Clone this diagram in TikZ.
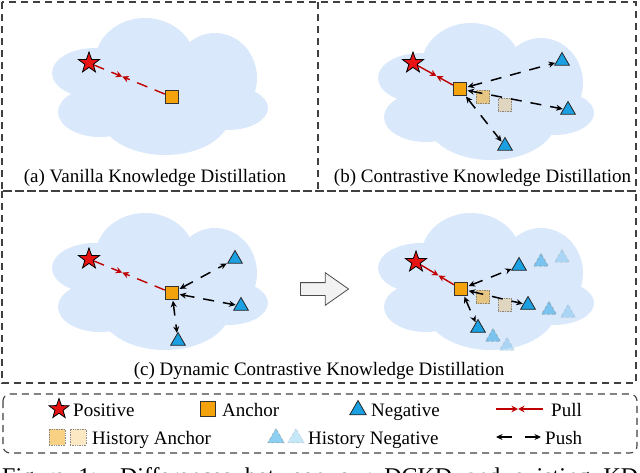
\documentclass[tikz,border=0pt]{standalone}
\usepackage{fontspec}
\setmainfont{Liberation Serif}
\usetikzlibrary{shapes.geometric,shapes.arrows,arrows.meta,calc}
\definecolor{cloudblue}{HTML}{DAE8FC}
\definecolor{starred}{HTML}{E81414}
\definecolor{pullred}{HTML}{C00000}
\definecolor{ancorange}{HTML}{F4A30C}
\definecolor{negblue}{HTML}{1BA0E1}
\definecolor{boxgray}{HTML}{404040}
\tikzset{
  cloudpic/.pic={
    \fill[cloudblue]
      (93,44) ellipse [x radius=50pt, y radius=44pt]
      (163,60) ellipse [x radius=42pt, y radius=45pt]
      (176,90) ellipse [x radius=40pt, y radius=22pt]
      (113,97) ellipse [x radius=65pt, y radius=40pt]
      (48,94) ellipse [x radius=42pt, y radius=25pt]
      (43,55) ellipse [x radius=43pt, y radius=25pt]
      (108,72) ellipse [x radius=80pt, y radius=45pt];
  },
  boxline/.style={draw=boxgray, line width=1.1pt, dash pattern=on 7pt off 5pt},
  posnode/.style={star, star points=5, star point ratio=2.5, minimum size=22pt, inner sep=0pt, fill=starred, draw=black, line width=0.8pt},
  ancnode/.style={rectangle, minimum size=13.5pt, inner sep=0pt, fill=ancorange, draw=black!80, line width=0.8pt},
  hanc/.style={rectangle, minimum size=13.5pt, inner sep=0pt, fill=ancorange, fill opacity=#1, draw=gray, draw opacity=0.9, densely dotted, line width=0.7pt},
  negnode/.style={regular polygon, regular polygon sides=3, minimum size=17pt, inner sep=0pt, fill=negblue, draw=black!85, line width=0.8pt},
  hneg/.style={regular polygon, regular polygon sides=3, minimum size=17pt, inner sep=0pt, fill=negblue, fill opacity=#1, draw=gray, draw opacity=#1, densely dashed, line width=0.7pt},
  pulld/.style={draw=pullred, line width=1.4pt, dash pattern=on 11pt off 8pt, -{Stealth[length=6.5pt,width=6.5pt]}},
  pulls/.style={draw=pullred, line width=1.4pt, -{Stealth[length=6.5pt,width=6.5pt]}},
  push/.style={draw=black, line width=1.5pt, dash pattern=on 11pt off 9pt, {Stealth[length=6.5pt,width=6pt]}-{Stealth[length=6.5pt,width=6pt]}, shorten <=0.5pt, shorten >=0.5pt},
  pushs/.style={draw=black, line width=1.5pt, -{Stealth[length=6.5pt,width=6pt]}},
  txt/.style={inner sep=0pt, anchor=base west},
  captext/.style={inner sep=0pt, anchor=base},
}
\begin{document}
\begin{tikzpicture}[x=1pt,y=-1pt,font=\fontsize{19}{22}\selectfont]
\useasboundingbox (0,0) rectangle (640,473);

% frames
\draw[boxline] (2,2) rectangle (636,191);
\draw[boxline] (318,2) -- (318,191);
\draw[boxline] (2,191) rectangle (636,383);
\draw[boxline, rounded corners=7pt] (3,394) rectangle (637,453);

% clouds
\pic at (52,18) {cloudpic};
\pic at (378,23) {cloudpic};
\pic at (52,213) {cloudpic};
\pic at (378,213) {cloudpic};

% (a)
\node[posnode] (sa) at (89,63) {};
\node[ancnode] (qa) at (172,97) {};
\coordinate (ma) at ($(sa)!0.4!(qa)$);
\draw[pulld] (sa) -- (ma);
\draw[pulld] (qa) -- (ma);
\node[captext] (capa) at (155,183) {(a) Vanilla Knowledge Distillation};

% (b)
\node[hanc=0.5] (hb1) at (483,97) {};
\node[hanc=0.25] (hb2) at (505,105) {};
\node[posnode] (sb) at (413,63) {};
\node[ancnode] (qb) at (460,89) {};
\node[negnode] (nb1) at (562,61) {};
\node[negnode] (nb2) at (568,110) {};
\node[negnode] (nb3) at (505,146) {};
\coordinate (mb) at ($(sb)!0.5!(qb)$);
\draw[pulls] (sb) -- (mb);
\draw[pulls] (qb) -- (mb);
\draw[push] (qb) -- (nb1);
\draw[push] (qb) -- (nb2);
\draw[push] (qb) -- (nb3);
\node[captext] (capb) at (482.5,183) {(b) Contrastive Knowledge Distillation};

% (c) left
\node[posnode] (sc) at (89,259) {};
\node[ancnode] (qc) at (172,293) {};
\node[negnode] (nc1) at (235,259) {};
\node[negnode] (nc2) at (241,306) {};
\node[negnode] (nc3) at (178,341) {};
\coordinate (mc) at ($(sc)!0.4!(qc)$);
\draw[pulld] (sc) -- (mc);
\draw[pulld] (qc) -- (mc);
\draw[push] (qc) -- (nc1);
\draw[push] (qc) -- (nc2);
\draw[push] (qc) -- (nc3);

% big arrow
\node[single arrow, minimum height=48pt, inner xsep=0pt, inner ysep=6pt, single arrow head extend=10pt, single arrow tip angle=70, fill=black!5, draw=black!70, line width=0.8pt] (bigarrow) at (320,289) {};

% (c) right
\node[hanc=0.5] (hd1) at (483,297) {};
\node[hanc=0.25] (hd2) at (505,305) {};
\node[hneg=0.5] (hn1a) at (541,262) {};
\node[hneg=0.25] (hn1b) at (562,258) {};
\node[hneg=0.5] (hn2a) at (549,310) {};
\node[hneg=0.25] (hn2b) at (568,313) {};
\node[hneg=0.5] (hn3a) at (493,337) {};
\node[hneg=0.25] (hn3b) at (507,346) {};
\node[posnode] (sd) at (416,262) {};
\node[ancnode] (qd) at (461,289) {};
\node[negnode] (nd1) at (519,266) {};
\node[negnode] (nd2) at (528,305) {};
\node[negnode] (nd3) at (478,328) {};
\coordinate (md) at ($(sd)!0.5!(qd)$);
\draw[pulls] (sd) -- (md);
\draw[pulls] (qd) -- (md);
\draw[push] (qd) -- (nd1);
\draw[push] (qd) -- (nd2);
\draw[push] (qd) -- (nd3);
\node[captext] (capc) at (319,375) {(c) Dynamic Contrastive Knowledge Distillation};

% legend
\node[posnode, minimum size=21pt] (lpos) at (59,409) {};
\node[txt] (tpos) at (73,416) {Positive};
\node[ancnode, minimum size=15pt] (lanc) at (208,409) {};
\node[txt] (tanc) at (222,416) {Anchor};
\node[negnode, minimum size=19pt] (lneg) at (358,410) {};
\node[txt] (tneg) at (371,416) {Negative};
\coordinate (pl1) at (496,409);
\coordinate (pl2) at (518,409);
\coordinate (pl3) at (543,409);
\draw[pulls] (pl1) -- (pl2);
\draw[pulls] (pl3) -- (pl2);
\node[txt] (tpull) at (551,416) {Pull};
\node[hanc=0.5, minimum size=16pt] (lha1) at (57,437) {};
\node[hanc=0.25, minimum size=16pt] (lha2) at (78,437) {};
\node[txt] (tha) at (92,444.5) {History Anchor};
\node[hneg=0.5, minimum size=19pt] (lhn1) at (276,438) {};
\node[hneg=0.25, minimum size=19pt] (lhn2) at (296,438) {};
\node[txt] (thn) at (308,444.5) {History Negative};
\coordinate (ps1) at (512,437);
\coordinate (ps2) at (496,437);
\coordinate (ps3) at (525,437);
\coordinate (ps4) at (541,437);
\draw[pushs] (ps1) -- (ps2);
\draw[pushs] (ps3) -- (ps4);
\node[txt] (tpush) at (545,444.5) {Push};

% cut-off caption
\begin{scope}
\clip (0,0) rectangle (640,473);
\node[txt, font=\fontsize{24}{28}\selectfont] (figcap) at (2,484) {\makebox[636pt][s]{Figure 1: Differences between our DCKD and existing KD}};
\end{scope}
\end{tikzpicture}
\end{document}
